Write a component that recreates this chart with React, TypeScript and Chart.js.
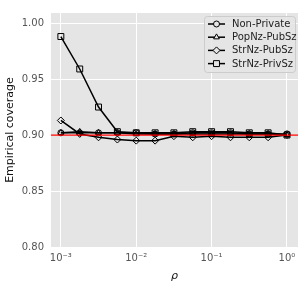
import React, { useEffect, useRef } from "react";
import { Chart, registerables } from "chart.js";
import { drawPoint } from "chart.js/helpers";

Chart.register(...registerables);

const RHO = [0.001, 0.00178, 0.00316, 0.00562, 0.01, 0.0178, 0.0316, 0.0562, 0.1, 0.178, 0.316, 0.562, 1];
const NON_PRIVATE = [0.902, 0.902, 0.902, 0.902, 0.902, 0.901, 0.901, 0.902, 0.902, 0.902, 0.901, 0.901, 0.901];
const POPNZ_PUBSZ = [0.902, 0.903, 0.902, 0.902, 0.901, 0.901, 0.901, 0.901, 0.901, 0.901, 0.901, 0.901, 0.900];
const STRNZ_PUBSZ = [0.913, 0.901, 0.898, 0.896, 0.895, 0.895, 0.899, 0.898, 0.899, 0.898, 0.898, 0.898, 0.900];
const STRNZ_PRIVSZ = [0.988, 0.959, 0.925, 0.903, 0.902, 0.902, 0.902, 0.903, 0.903, 0.903, 0.902, 0.902, 0.900];

const SERIES_NAMES = ["Non-Private", "PopNz-PubSz", "StrNz-PubSz", "StrNz-PrivSz"];
const SERIES_VALUES = [NON_PRIVATE, POPNZ_PUBSZ, STRNZ_PUBSZ, STRNZ_PRIVSZ];
const MARKERS = ["circle", "triangle", "rectRot", "rect"];
const MARKER_RADII = [3, 3.3, 3.5, 4.2];

const X_TICKS = [0.001, 0.01, 0.1, 1];
const X_TICK_LABELS = ["10\u207B\u00B3", "10\u207B\u00B2", "10\u207B\u00B9", "10\u2070"];
const Y_TICKS = [0.8, 0.85, 0.9, 0.95, 1.0];
const TARGET = 0.9;

const FONT = "'DejaVu Sans', sans-serif";

const customPlugin = {
  id: "custom",
  beforeDraw(chart: any) {
    const { ctx, chartArea: a } = chart;
    ctx.save();
    ctx.fillStyle = "#E5E5E5";
    ctx.fillRect(a.left, a.top, a.right - a.left, a.bottom - a.top);
    ctx.restore();
  },
  afterDatasetsDraw(chart: any) {
    const { ctx, chartArea: a } = chart;
    const y = chart.scales.y.getPixelForValue(TARGET);
    ctx.save();
    ctx.strokeStyle = "#FF0000";
    ctx.lineWidth = 1.2;
    ctx.beginPath();
    ctx.moveTo(a.left, y);
    ctx.lineTo(a.right, y);
    ctx.stroke();

    // legend
    const bx = a.right - 94;
    const by = a.top + 3;
    const bw = 91;
    const bh = 56;
    ctx.fillStyle = "rgba(229,229,229,0.8)";
    ctx.strokeStyle = "#CCCCCC";
    ctx.lineWidth = 1;
    ctx.beginPath();
    (ctx as any).roundRect(bx + 0.5, by + 0.5, bw, bh, 3);
    ctx.fill();
    ctx.stroke();
    ctx.font = `10px ${FONT}`;
    ctx.textBaseline = "middle";
    ctx.textAlign = "left";
    chart.data.datasets.forEach((ds: any, i: number) => {
      const ry = by + 8 + i * 13.2;
      const lx = bx + 4;
      ctx.strokeStyle = "#000";
      ctx.lineWidth = 1.5;
      ctx.beginPath();
      ctx.moveTo(lx, ry);
      ctx.lineTo(lx + 17, ry);
      ctx.stroke();
      ctx.fillStyle = "#E5E5E5";
      ctx.strokeStyle = "#000";
      ctx.lineWidth = 1;
      drawPoint(ctx, { pointStyle: ds.pointStyle, radius: ds.pointRadius, rotation: 0, borderWidth: 1 } as any, lx + 8.5, ry);
      ctx.fillStyle = "#222";
      ctx.fillText(ds.label, lx + 24, ry + 0.5);
    });
    ctx.restore();
  },
};

export default function App() {
  const ref = useRef<HTMLCanvasElement>(null);
  useEffect(() => {
    if (!ref.current) return;
    const datasets = SERIES_NAMES.map((name, i) => ({
      label: name,
      data: RHO.map((r, j) => ({ x: r, y: SERIES_VALUES[i][j] })),
      borderColor: "#000",
      borderWidth: 1.5,
      pointStyle: MARKERS[i],
      pointRadius: MARKER_RADII[i],
      pointBorderWidth: 1,
      pointBorderColor: "#000",
      pointBackgroundColor: "rgba(0,0,0,0)",
      tension: 0,
      fill: false,
    }));
    const chart = new Chart(ref.current, {
      type: "line",
      data: { datasets },
      options: {
        animation: false,
        responsive: false,
        layout: { padding: { left: 0, right: 7, top: 7, bottom: 0 } },
        plugins: { legend: { display: false }, tooltip: { enabled: false } },
        scales: {
          x: {
            type: "logarithmic",
            min: 0.00074,
            max: 1.4,
            afterBuildTicks: (s: any) => {
              s.ticks = X_TICKS.map((v) => ({ value: v }));
            },
            afterFit: (s: any) => {
              s.height = 39;
            },
            ticks: {
              autoSkip: false,
              maxRotation: 0,
              padding: 5,
              color: "#555",
              font: { family: FONT, size: 10 },
              callback: (v: any) => {
                const idx = X_TICKS.findIndex((t) => Math.abs(t - v) / t < 1e-6);
                return idx >= 0 ? X_TICK_LABELS[idx] : "";
              },
            },
            grid: { color: "#FFFFFF", lineWidth: 1, drawTicks: false },
            border: { display: false },
            title: {
              display: true,
              text: "\u03C1",
              color: "#111",
              font: { family: FONT, size: 11, style: "italic" },
              padding: { top: 2, bottom: 3 },
            },
          },
          y: {
            type: "linear",
            min: 0.8,
            max: 1.009,
            afterBuildTicks: (s: any) => {
              s.ticks = Y_TICKS.map((v) => ({ value: v }));
            },
            afterFit: (s: any) => {
              s.width = 51;
            },
            ticks: {
              padding: 7,
              color: "#555",
              font: { family: FONT, size: 10 },
              callback: (v: any) => Number(v).toFixed(2),
            },
            grid: { color: "#FFFFFF", lineWidth: 1, drawTicks: false },
            border: { display: false },
            title: {
              display: true,
              text: "Empirical coverage",
              color: "#111",
              font: { family: FONT, size: 11 },
              padding: { top: 4, bottom: 4 },
            },
          },
        },
      },
      plugins: [customPlugin],
    });
    return () => chart.destroy();
  }, []);
  return (
    <div style={{ position: "absolute", left: 0, top: 0, width: 305, height: 286, background: "#fff" }}>
      <canvas ref={ref} width={305} height={286} />
    </div>
  );
}
